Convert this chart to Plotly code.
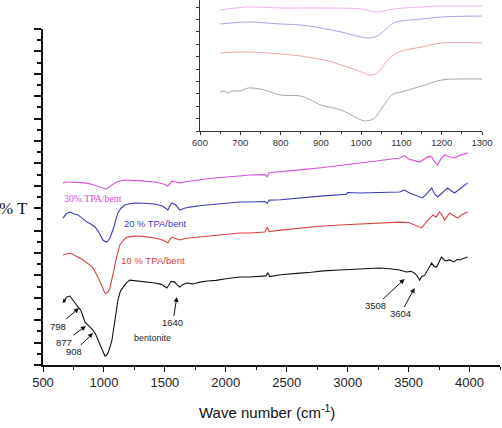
import plotly.graph_objects as go

# ---------------- main spectra (wavenumber, %T arbitrary offset units) ----------------
bent_x = [664, 672, 678, 688, 700, 721, 745, 770, 787, 810, 830, 844, 865, 885, 910, 930, 950, 970, 984, 1000,
          1008, 1020, 1033, 1050, 1066, 1078, 1090, 1103, 1115, 1135, 1156, 1185, 1213, 1250, 1295, 1350, 1418,
          1470, 1500, 1516, 1530, 1549, 1565, 1582, 1600, 1623, 1645, 1680, 1730, 1787, 1850, 1920, 2000, 2060,
          2115, 2197, 2280, 2330, 2345, 2360, 2450, 2530, 2607, 2700, 2800, 2934, 3050, 3150, 3262, 3350, 3426,
          3484, 3520, 3549, 3570, 3590, 3610, 3631, 3660, 3689, 3710, 3730, 3750, 3770, 3800, 3836, 3870, 3900,
          3918, 3950, 3984]
bent_y = [2.77, 2.95, 2.80, 3.00, 3.05, 3.08, 2.90, 2.70, 2.59, 2.45, 2.15, 1.92, 1.80, 1.70, 1.56, 1.40, 1.12, 0.85,
          0.67, 0.45, 0.40, 0.42, 0.54, 0.80, 1.12, 1.55, 2.00, 2.50, 2.90, 3.30, 3.48, 3.68, 3.79, 3.77, 3.75, 3.72,
          3.66, 3.60, 3.50, 3.44, 3.55, 3.72, 3.72, 3.70, 3.58, 3.48, 3.58, 3.66, 3.62, 3.70, 3.75, 3.78, 3.85, 3.88,
          3.93, 3.93, 3.96, 3.98, 4.12, 3.95, 4.03, 4.05, 4.10, 4.14, 4.20, 4.24, 4.28, 4.30, 4.33, 4.30, 4.24, 4.15,
          4.18, 4.10, 3.98, 3.79, 3.95, 4.00, 4.30, 4.55, 4.40, 4.37, 4.60, 4.82, 4.65, 4.69, 4.60, 4.72, 4.69, 4.75,
          4.82]

t10_x = [664, 690, 721, 750, 787, 820, 861, 890, 910, 930, 951, 970, 984, 1000, 1008, 1020, 1033, 1050, 1066, 1082,
         1098, 1115, 1131, 1160, 1189, 1240, 1295, 1350, 1418, 1480, 1510, 1525, 1540, 1557, 1580, 1623, 1680, 1787,
         1900, 2000, 2115, 2197, 2320, 2340, 2355, 2450, 2607, 2750, 2934, 3100, 3250, 3426, 3500, 3549, 3580, 3607,
         3640, 3672, 3700, 3725, 3754, 3775, 3795, 3836, 3870, 3902, 3940, 3984]
t10_y = [4.91, 4.95, 5.00, 4.92, 4.82, 4.72, 4.55, 4.45, 4.33, 4.15, 3.93, 3.68, 3.48, 3.28, 3.21, 3.20, 3.26, 3.45,
         3.79, 4.25, 4.69, 5.10, 5.36, 5.58, 5.71, 5.74, 5.76, 5.72, 5.67, 5.58, 5.48, 5.45, 5.60, 5.71, 5.66, 5.58,
         5.66, 5.71, 5.78, 5.82, 5.89, 5.89, 5.94, 6.16, 5.95, 6.02, 6.12, 6.18, 6.25, 6.30, 6.34, 6.38, 6.36, 6.25,
         6.15, 6.12, 6.35, 6.56, 6.70, 6.60, 6.83, 6.70, 6.47, 6.79, 6.65, 6.56, 6.72, 6.83]

t20_x = [664, 690, 721, 750, 787, 820, 861, 895, 926, 950, 967, 980, 992, 1016, 1030, 1049, 1065, 1082, 1098, 1115,
         1140, 1172, 1210, 1254, 1330, 1418, 1480, 1510, 1525, 1540, 1557, 1590, 1623, 1660, 1705, 1800, 1950, 2115,
         2197, 2320, 2340, 2355, 2450, 2607, 2800, 2990, 3000, 3098, 3250, 3426, 3467, 3500, 3549, 3590, 3615, 3650,
         3689, 3712, 3738, 3780, 3820, 3850, 3877, 3930, 3984]
t20_y = [6.56, 6.75, 6.83, 6.75, 6.70, 6.55, 6.38, 6.28, 6.16, 6.00, 5.80, 5.66, 5.58, 5.49, 5.52, 5.67, 5.90, 6.16,
         6.50, 6.79, 7.00, 7.14, 7.20, 7.23, 7.22, 7.19, 7.10, 6.98, 6.92, 7.10, 7.23, 7.14, 6.92, 7.00, 7.05, 7.12,
         7.20, 7.28, 7.28, 7.30, 7.22, 7.36, 7.38, 7.46, 7.55, 7.62, 7.70, 7.68, 7.70, 7.72, 7.81, 7.70, 7.59, 7.52,
         7.46, 7.65, 7.90, 7.65, 7.50, 7.70, 7.90, 7.78, 7.68, 7.90, 8.13]

t30_x = [664, 690, 721, 780, 844, 900, 967, 990, 1016, 1040, 1066, 1110, 1172, 1300, 1418, 1490, 1525, 1540, 1557,
         1590, 1623, 1700, 1900, 2115, 2197, 2320, 2340, 2355, 2450, 2607, 2800, 2934, 3098, 3250, 3426, 3467, 3500,
         3540, 3590, 3630, 3660, 3689, 3710, 3738, 3765, 3795, 3830, 3877, 3930, 3984]
t30_y = [8.13, 8.17, 8.17, 8.15, 8.13, 8.07, 7.95, 7.90, 7.86, 7.93, 8.04, 8.18, 8.26, 8.22, 8.17, 8.08, 7.99, 8.10,
         8.21, 8.17, 8.13, 8.20, 8.35, 8.44, 8.48, 8.50, 8.40, 8.58, 8.62, 8.71, 8.82, 8.90, 9.02, 9.12, 9.24, 9.35,
         9.20, 9.15, 9.06, 9.20, 9.30, 9.29, 9.10, 8.93, 9.20, 9.38, 9.30, 9.24, 9.38, 9.46]

# ---------------- inset (600-1300 cm-1) ----------------
in30_x = [650, 720, 800, 900, 1000, 1040, 1080, 1150, 1200, 1300]
in30_y = [121, 124, 123, 123, 122, 119, 122, 124, 125, 125]
in20_x = [650, 720, 800, 850, 900, 950, 1000, 1020, 1040, 1060, 1080, 1100, 1150, 1200, 1300]
in20_y = [107, 109, 107, 106, 103, 99, 94, 93, 95, 101, 108, 110, 112, 114, 115]
in10_x = [650, 720, 800, 850, 880, 920, 950, 980, 1000, 1020, 1040, 1060, 1080, 1100, 1150, 1200, 1300]
in10_y = [78, 79, 77, 75, 73, 70, 66, 62, 59, 56, 58, 68, 76, 80, 84, 88, 88]
inb_x = [650, 660, 670, 680, 700, 720, 760, 800, 850, 880, 900, 950, 980, 1000, 1010, 1030, 1040, 1060, 1080, 1100,
         1150, 1200, 1250, 1300]
inb_y = [39, 40, 38, 40, 40, 43, 41, 36, 35, 30, 26, 21, 15, 11, 10, 12, 16, 28, 37, 39, 45, 51, 52, 52]

main_ticks = [500, 1000, 1500, 2000, 2500, 3000, 3500, 4000]
inset_ticks = [600, 700, 800, 900, 1000, 1100, 1200, 1300]

# peak labels: (label, wavenumber at arrow head, %T at arrow head)
peak_labels = ["798", "877", "908", "1640", "3508", "3604"]
peak_x = [795, 852, 910, 1598, 3467, 3549]
peak_y = [2.54, 1.74, 1.43, 3.04, 3.84, 3.44]

W, H = 502, 428
fig = go.Figure()

main_series = [(bent_x, bent_y, "#111111"), (t10_x, t10_y, "#d9413f"),
               (t20_x, t20_y, "#3a3ac0"), (t30_x, t30_y, "#d94fd9")]
for xs, ys, c in main_series:
    fig.add_trace(go.Scatter(x=xs, y=ys, mode="lines", line=dict(color=c, width=1.1),
                             xaxis="x", yaxis="y", showlegend=False, hoverinfo="skip"))

inset_series = [(inb_x, inb_y, "#a8a8a8"), (in10_x, in10_y, "#f0a6a6"),
                (in20_x, in20_y, "#a6a6e6"), (in30_x, in30_y, "#f3b3f3")]
for xs, ys, c in inset_series:
    fig.add_trace(go.Scatter(x=xs, y=ys, mode="lines", line=dict(color=c, width=1, shape="spline"),
                             xaxis="x2", yaxis="y2", showlegend=False, hoverinfo="skip"))

def px_x(p):
    return p / W

def px_y(p):
    return 1 - p / H

fig.update_layout(
    width=W, height=H, margin=dict(l=0, r=0, t=0, b=0, autoexpand=False),
    paper_bgcolor="white", plot_bgcolor="rgba(0,0,0,0)",
    font=dict(family="Liberation Sans, Arial, sans-serif", color="#222"),
    xaxis=dict(domain=[px_x(43), px_x(500)], range=[500, 4250], tickvals=main_ticks, automargin=False,
               ticks="outside", ticklen=5, tickwidth=1.3, tickcolor="#111",
               minor=dict(dtick=250, tick0=500, ticks="outside", ticklen=3, tickwidth=1.2, tickcolor="#111"),
               showline=True, linecolor="#111", linewidth=1.5, showgrid=False, zeroline=False,
               tickfont=dict(size=13, color="#222"), anchor="y"),
    yaxis=dict(domain=[px_y(365), px_y(29)], range=[0, 15], dtick=1, tick0=0, automargin=False,
               ticks="outside", ticklen=7, tickwidth=2, tickcolor="#111", showticklabels=False,
               minor=dict(dtick=0.5, tick0=0, ticks="outside", ticklen=4, tickwidth=2, tickcolor="#111"),
               showline=True, linecolor="#111", linewidth=2, showgrid=False, zeroline=False, anchor="x"),
    xaxis2=dict(domain=[px_x(200), px_x(482)], range=[600, 1300], tickvals=inset_ticks, automargin=False,
                ticks="outside", ticklen=3, tickwidth=1, tickcolor="#333",
                minor=dict(dtick=50, tick0=600, ticks="outside", ticklen=2, tickwidth=1, tickcolor="#333"),
                showline=True, linecolor="#333", linewidth=1, showgrid=False, zeroline=False,
                tickfont=dict(size=9.5, color="#333"), anchor="y2"),
    yaxis2=dict(domain=[px_y(131), 1.0], range=[0, 131], dtick=12.4, tick0=0, automargin=False,
                ticks="outside", ticklen=3, tickwidth=1, tickcolor="#333", showticklabels=False,
                showline=True, linecolor="#333", linewidth=1, showgrid=False, zeroline=False, anchor="x2"),
)

ann = []
# axis titles
ann.append(dict(xref="paper", yref="paper", x=px_x(267), y=px_y(411), xanchor="center", yanchor="middle",
                text="Wave number (cm<sup>-1</sup>)",
                showarrow=False, font=dict(size=15, color="#111", family="Liberation Sans, Arial, sans-serif")))
ann.append(dict(xref="paper", yref="paper", x=px_x(13), y=px_y(208), xanchor="center", yanchor="middle",
                text="% T", showarrow=False,
                font=dict(size=17, color="#111", family="Liberation Serif, Times New Roman, serif")))
# series labels
ann.append(dict(xref="paper", yref="paper", x=px_x(62), y=px_y(198), xanchor="left", yanchor="middle",
                text="30% TPA/bent", showarrow=False,
                font=dict(size=9.8, color="#d94fd9", family="Liberation Serif, Times New Roman, serif")))
ann.append(dict(xref="paper", yref="paper", x=px_x(122), y=px_y(224), xanchor="left", yanchor="middle",
                text="20 % TPA/bent", showarrow=False,
                font=dict(size=9.4, color="#3a3ac0", family="Liberation Sans, Arial, sans-serif")))
ann.append(dict(xref="paper", yref="paper", x=px_x(119), y=px_y(260), xanchor="left", yanchor="middle",
                text="10 % TPA/bent", showarrow=False,
                font=dict(size=9.6, color="#d9413f", family="Liberation Sans, Arial, sans-serif")))
ann.append(dict(xref="paper", yref="paper", x=px_x(132), y=px_y(338), xanchor="left", yanchor="middle",
                text="bentonite", showarrow=False,
                font=dict(size=9, color="#222", family="Liberation Sans, Arial, sans-serif")))

# arrow offsets (pixels) from head to label centre
offs = [(-21, 18), (-22, 16), (-19, 19), (-4, 26), (-29, 27), (-14, 26)]
for lab, hx, hy, (ax, ay) in zip(peak_labels, peak_x, peak_y, offs):
    ann.append(dict(xref="x", yref="y", x=hx, y=hy, ax=ax, ay=ay, text=lab, showarrow=True,
                    arrowhead=2, arrowsize=1, arrowwidth=1, arrowcolor="#111", standoff=0, startstandoff=0,
                    font=dict(size=9.5, color="#222", family="Liberation Sans, Arial, sans-serif")))
fig.update_layout(annotations=ann)

fig.write_html("out.html", config={"displayModeBar": False},
               post_script="document.body.style.margin='0';document.body.style.overflow='hidden';")
